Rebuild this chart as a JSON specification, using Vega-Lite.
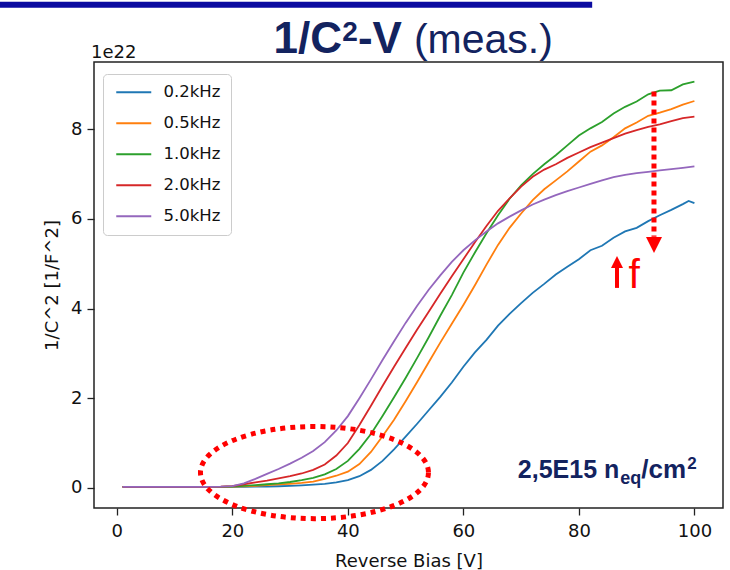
{
  "$schema": "https://vega.github.io/schema/vega-lite/v6.json",
  "width": 629,
  "height": 446,
  "autosize": {"type": "none"},
  "padding": {"left": 94, "top": 62, "right": 8, "bottom": 62},
  "background": "white",
  "config": {
    "view": {"stroke": "#222222", "strokeWidth": 1.5},
    "axis": {"grid": false, "domain": false}
  },
  "layer": [
    {
      "data": {"values": [
        {"f":"0.2kHz","v":1,"c":0.02},{"f":"0.2kHz","v":5,"c":0.02},{"f":"0.2kHz","v":10,"c":0.02},{"f":"0.2kHz","v":15,"c":0.02},{"f":"0.2kHz","v":18,"c":0.02},{"f":"0.2kHz","v":20,"c":0.02},{"f":"0.2kHz","v":22,"c":0.022},{"f":"0.2kHz","v":24,"c":0.025},{"f":"0.2kHz","v":26,"c":0.03},{"f":"0.2kHz","v":28,"c":0.035},{"f":"0.2kHz","v":30,"c":0.045},{"f":"0.2kHz","v":32,"c":0.055},{"f":"0.2kHz","v":34,"c":0.07},{"f":"0.2kHz","v":36,"c":0.09},{"f":"0.2kHz","v":38,"c":0.12},{"f":"0.2kHz","v":40,"c":0.17},{"f":"0.2kHz","v":42,"c":0.26},{"f":"0.2kHz","v":44,"c":0.4},{"f":"0.2kHz","v":46,"c":0.6},{"f":"0.2kHz","v":48,"c":0.86},{"f":"0.2kHz","v":50,"c":1.14},{"f":"0.2kHz","v":52,"c":1.43},{"f":"0.2kHz","v":54,"c":1.73},{"f":"0.2kHz","v":56,"c":2.03},{"f":"0.2kHz","v":58,"c":2.35},{"f":"0.2kHz","v":60,"c":2.7},{"f":"0.2kHz","v":62,"c":3.02},{"f":"0.2kHz","v":64,"c":3.3},{"f":"0.2kHz","v":66,"c":3.62},{"f":"0.2kHz","v":68,"c":3.88},{"f":"0.2kHz","v":70,"c":4.12},{"f":"0.2kHz","v":72,"c":4.35},{"f":"0.2kHz","v":74,"c":4.55},{"f":"0.2kHz","v":76,"c":4.76},{"f":"0.2kHz","v":78,"c":4.93},{"f":"0.2kHz","v":80,"c":5.1},{"f":"0.2kHz","v":82,"c":5.3},{"f":"0.2kHz","v":84,"c":5.4},{"f":"0.2kHz","v":86,"c":5.58},{"f":"0.2kHz","v":88,"c":5.72},{"f":"0.2kHz","v":90,"c":5.8},{"f":"0.2kHz","v":92,"c":5.95},{"f":"0.2kHz","v":94,"c":6.08},{"f":"0.2kHz","v":96,"c":6.2},{"f":"0.2kHz","v":98,"c":6.33},{"f":"0.2kHz","v":99,"c":6.4},{"f":"0.2kHz","v":100,"c":6.35},
        {"f":"0.5kHz","v":1,"c":0.02},{"f":"0.5kHz","v":5,"c":0.02},{"f":"0.5kHz","v":10,"c":0.02},{"f":"0.5kHz","v":15,"c":0.02},{"f":"0.5kHz","v":18,"c":0.02},{"f":"0.5kHz","v":20,"c":0.025},{"f":"0.5kHz","v":22,"c":0.035},{"f":"0.5kHz","v":24,"c":0.045},{"f":"0.5kHz","v":26,"c":0.06},{"f":"0.5kHz","v":28,"c":0.075},{"f":"0.5kHz","v":30,"c":0.09},{"f":"0.5kHz","v":32,"c":0.11},{"f":"0.5kHz","v":34,"c":0.14},{"f":"0.5kHz","v":36,"c":0.2},{"f":"0.5kHz","v":38,"c":0.27},{"f":"0.5kHz","v":40,"c":0.36},{"f":"0.5kHz","v":42,"c":0.53},{"f":"0.5kHz","v":44,"c":0.8},{"f":"0.5kHz","v":46,"c":1.15},{"f":"0.5kHz","v":48,"c":1.52},{"f":"0.5kHz","v":50,"c":1.93},{"f":"0.5kHz","v":52,"c":2.36},{"f":"0.5kHz","v":54,"c":2.8},{"f":"0.5kHz","v":56,"c":3.24},{"f":"0.5kHz","v":58,"c":3.66},{"f":"0.5kHz","v":60,"c":4.08},{"f":"0.5kHz","v":62,"c":4.52},{"f":"0.5kHz","v":64,"c":4.98},{"f":"0.5kHz","v":66,"c":5.42},{"f":"0.5kHz","v":68,"c":5.8},{"f":"0.5kHz","v":70,"c":6.12},{"f":"0.5kHz","v":72,"c":6.42},{"f":"0.5kHz","v":74,"c":6.66},{"f":"0.5kHz","v":76,"c":6.86},{"f":"0.5kHz","v":78,"c":7.06},{"f":"0.5kHz","v":80,"c":7.28},{"f":"0.5kHz","v":82,"c":7.5},{"f":"0.5kHz","v":84,"c":7.64},{"f":"0.5kHz","v":86,"c":7.82},{"f":"0.5kHz","v":88,"c":8.02},{"f":"0.5kHz","v":90,"c":8.15},{"f":"0.5kHz","v":92,"c":8.3},{"f":"0.5kHz","v":94,"c":8.37},{"f":"0.5kHz","v":96,"c":8.45},{"f":"0.5kHz","v":98,"c":8.55},{"f":"0.5kHz","v":100,"c":8.63},
        {"f":"1.0kHz","v":1,"c":0.02},{"f":"1.0kHz","v":5,"c":0.02},{"f":"1.0kHz","v":10,"c":0.02},{"f":"1.0kHz","v":15,"c":0.02},{"f":"1.0kHz","v":18,"c":0.022},{"f":"1.0kHz","v":20,"c":0.03},{"f":"1.0kHz","v":22,"c":0.045},{"f":"1.0kHz","v":24,"c":0.06},{"f":"1.0kHz","v":26,"c":0.08},{"f":"1.0kHz","v":28,"c":0.1},{"f":"1.0kHz","v":30,"c":0.13},{"f":"1.0kHz","v":32,"c":0.17},{"f":"1.0kHz","v":34,"c":0.22},{"f":"1.0kHz","v":36,"c":0.3},{"f":"1.0kHz","v":38,"c":0.42},{"f":"1.0kHz","v":40,"c":0.6},{"f":"1.0kHz","v":42,"c":0.87},{"f":"1.0kHz","v":44,"c":1.2},{"f":"1.0kHz","v":46,"c":1.6},{"f":"1.0kHz","v":48,"c":2.02},{"f":"1.0kHz","v":50,"c":2.45},{"f":"1.0kHz","v":52,"c":2.9},{"f":"1.0kHz","v":54,"c":3.36},{"f":"1.0kHz","v":56,"c":3.84},{"f":"1.0kHz","v":58,"c":4.3},{"f":"1.0kHz","v":60,"c":4.8},{"f":"1.0kHz","v":62,"c":5.25},{"f":"1.0kHz","v":64,"c":5.68},{"f":"1.0kHz","v":66,"c":6.08},{"f":"1.0kHz","v":68,"c":6.45},{"f":"1.0kHz","v":70,"c":6.75},{"f":"1.0kHz","v":72,"c":7.0},{"f":"1.0kHz","v":74,"c":7.22},{"f":"1.0kHz","v":76,"c":7.42},{"f":"1.0kHz","v":78,"c":7.64},{"f":"1.0kHz","v":80,"c":7.86},{"f":"1.0kHz","v":82,"c":8.02},{"f":"1.0kHz","v":84,"c":8.16},{"f":"1.0kHz","v":86,"c":8.35},{"f":"1.0kHz","v":88,"c":8.5},{"f":"1.0kHz","v":90,"c":8.62},{"f":"1.0kHz","v":92,"c":8.78},{"f":"1.0kHz","v":94,"c":8.86},{"f":"1.0kHz","v":96,"c":8.87},{"f":"1.0kHz","v":98,"c":9.0},{"f":"1.0kHz","v":100,"c":9.06},
        {"f":"2.0kHz","v":1,"c":0.02},{"f":"2.0kHz","v":5,"c":0.02},{"f":"2.0kHz","v":10,"c":0.02},{"f":"2.0kHz","v":15,"c":0.02},{"f":"2.0kHz","v":18,"c":0.025},{"f":"2.0kHz","v":20,"c":0.04},{"f":"2.0kHz","v":22,"c":0.08},{"f":"2.0kHz","v":24,"c":0.12},{"f":"2.0kHz","v":26,"c":0.16},{"f":"2.0kHz","v":28,"c":0.21},{"f":"2.0kHz","v":30,"c":0.26},{"f":"2.0kHz","v":32,"c":0.32},{"f":"2.0kHz","v":34,"c":0.4},{"f":"2.0kHz","v":36,"c":0.52},{"f":"2.0kHz","v":38,"c":0.72},{"f":"2.0kHz","v":40,"c":1.0},{"f":"2.0kHz","v":42,"c":1.4},{"f":"2.0kHz","v":44,"c":1.83},{"f":"2.0kHz","v":46,"c":2.27},{"f":"2.0kHz","v":48,"c":2.7},{"f":"2.0kHz","v":50,"c":3.12},{"f":"2.0kHz","v":52,"c":3.53},{"f":"2.0kHz","v":54,"c":3.93},{"f":"2.0kHz","v":56,"c":4.33},{"f":"2.0kHz","v":58,"c":4.72},{"f":"2.0kHz","v":60,"c":5.1},{"f":"2.0kHz","v":62,"c":5.48},{"f":"2.0kHz","v":64,"c":5.84},{"f":"2.0kHz","v":66,"c":6.18},{"f":"2.0kHz","v":68,"c":6.46},{"f":"2.0kHz","v":70,"c":6.72},{"f":"2.0kHz","v":72,"c":6.94},{"f":"2.0kHz","v":74,"c":7.1},{"f":"2.0kHz","v":76,"c":7.22},{"f":"2.0kHz","v":78,"c":7.36},{"f":"2.0kHz","v":80,"c":7.48},{"f":"2.0kHz","v":82,"c":7.6},{"f":"2.0kHz","v":84,"c":7.7},{"f":"2.0kHz","v":86,"c":7.8},{"f":"2.0kHz","v":88,"c":7.9},{"f":"2.0kHz","v":90,"c":7.98},{"f":"2.0kHz","v":92,"c":8.05},{"f":"2.0kHz","v":94,"c":8.11},{"f":"2.0kHz","v":96,"c":8.18},{"f":"2.0kHz","v":98,"c":8.25},{"f":"2.0kHz","v":100,"c":8.28},
        {"f":"5.0kHz","v":1,"c":0.02},{"f":"5.0kHz","v":5,"c":0.02},{"f":"5.0kHz","v":10,"c":0.02},{"f":"5.0kHz","v":15,"c":0.02},{"f":"5.0kHz","v":18,"c":0.025},{"f":"5.0kHz","v":20,"c":0.04},{"f":"5.0kHz","v":22,"c":0.1},{"f":"5.0kHz","v":24,"c":0.2},{"f":"5.0kHz","v":26,"c":0.31},{"f":"5.0kHz","v":28,"c":0.42},{"f":"5.0kHz","v":30,"c":0.54},{"f":"5.0kHz","v":32,"c":0.67},{"f":"5.0kHz","v":34,"c":0.82},{"f":"5.0kHz","v":36,"c":1.02},{"f":"5.0kHz","v":38,"c":1.28},{"f":"5.0kHz","v":40,"c":1.6},{"f":"5.0kHz","v":42,"c":2.0},{"f":"5.0kHz","v":44,"c":2.42},{"f":"5.0kHz","v":46,"c":2.85},{"f":"5.0kHz","v":48,"c":3.27},{"f":"5.0kHz","v":50,"c":3.68},{"f":"5.0kHz","v":52,"c":4.06},{"f":"5.0kHz","v":54,"c":4.42},{"f":"5.0kHz","v":56,"c":4.74},{"f":"5.0kHz","v":58,"c":5.04},{"f":"5.0kHz","v":60,"c":5.3},{"f":"5.0kHz","v":62,"c":5.52},{"f":"5.0kHz","v":64,"c":5.72},{"f":"5.0kHz","v":66,"c":5.9},{"f":"5.0kHz","v":68,"c":6.05},{"f":"5.0kHz","v":70,"c":6.19},{"f":"5.0kHz","v":72,"c":6.32},{"f":"5.0kHz","v":74,"c":6.43},{"f":"5.0kHz","v":76,"c":6.53},{"f":"5.0kHz","v":78,"c":6.62},{"f":"5.0kHz","v":80,"c":6.7},{"f":"5.0kHz","v":82,"c":6.78},{"f":"5.0kHz","v":84,"c":6.86},{"f":"5.0kHz","v":86,"c":6.93},{"f":"5.0kHz","v":88,"c":6.98},{"f":"5.0kHz","v":90,"c":7.02},{"f":"5.0kHz","v":92,"c":7.05},{"f":"5.0kHz","v":94,"c":7.08},{"f":"5.0kHz","v":96,"c":7.11},{"f":"5.0kHz","v":98,"c":7.14},{"f":"5.0kHz","v":100,"c":7.17}
      ]},
      "mark": {"type": "line", "strokeWidth": 1.8, "clip": true},
      "encoding": {
        "x": {
          "field": "v", "type": "quantitative",
          "scale": {"domain": [-3.95, 104.95], "nice": false, "zero": false},
          "axis": {
            "title": "Reverse Bias [V]", "values": [0, 20, 40, 60, 80, 100], "format": "d",
            "tickSize": 7, "tickColor": "#222222", "tickWidth": 1.3,
            "labelFont": "DejaVu Sans", "labelFontSize": 18, "labelColor": "#111111", "labelPadding": 7,
            "titleFont": "DejaVu Sans", "titleFontSize": 18, "titleFontWeight": "normal", "titleColor": "#111111",
            "titleY": 58, "titleBaseline": "alphabetic"
          }
        },
        "y": {
          "field": "c", "type": "quantitative",
          "scale": {"domain": [-0.45, 9.5], "nice": false, "zero": false},
          "axis": {
            "title": "1/C^2 [1/F^2]", "values": [0, 2, 4, 6, 8], "format": "d",
            "tickSize": 7, "tickColor": "#222222", "tickWidth": 1.3,
            "labelFont": "DejaVu Sans", "labelFontSize": 18, "labelColor": "#111111", "labelPadding": 5,
            "titleFont": "DejaVu Sans", "titleFontSize": 18, "titleFontWeight": "normal", "titleColor": "#111111",
            "titlePadding": 9
          }
        },
        "color": {
          "field": "f", "type": "nominal",
          "scale": {"domain": ["0.2kHz", "0.5kHz", "1.0kHz", "2.0kHz", "5.0kHz"], "range": ["#1f77b4", "#ff7f0e", "#2ca02c", "#d62728", "#9467bd"]},
          "legend": {
            "title": null, "orient": "none", "legendX": 9, "legendY": 12,
            "symbolType": "M-1,0H6", "symbolSize": 100, "symbolStrokeWidth": 2,
            "labelFont": "DejaVu Sans", "labelFontSize": 16.5, "labelColor": "#111111", "labelOffset": 34,
            "rowPadding": 14, "padding": 10, "strokeColor": "#cccccc", "fillColor": "white", "cornerRadius": 4
          }
        }
      }
    },
    {
      "data": {"values": [{}]},
      "mark": {"type": "rule", "color": "#0b0ba0", "strokeWidth": 6, "clip": false},
      "encoding": {"x": {"datum": -20.3, "type": "quantitative"}, "x2": {"datum": 82.3}, "y": {"datum": 10.78, "type": "quantitative"}}
    },
    {
      "data": {"values": [{}]},
      "mark": {"type": "text", "text": "-V", "font": "Liberation Sans", "fontWeight": "bold", "fontSize": 44, "color": "#13235f", "align": "right", "baseline": "alphabetic", "dx": -6},
      "encoding": {"x": {"datum": 50.4, "type": "quantitative"}, "y": {"datum": 9.7, "type": "quantitative"}}
    },
    {
      "data": {"values": [{}]},
      "mark": {"type": "text", "text": "2", "font": "Liberation Sans", "fontWeight": "bold", "fontSize": 28, "color": "#13235f", "align": "right", "baseline": "alphabetic", "dx": -50, "dy": -12},
      "encoding": {"x": {"datum": 50.4, "type": "quantitative"}, "y": {"datum": 9.7, "type": "quantitative"}}
    },
    {
      "data": {"values": [{}]},
      "mark": {"type": "text", "text": "1/C", "font": "Liberation Sans", "fontWeight": "bold", "fontSize": 44, "color": "#13235f", "align": "right", "baseline": "alphabetic", "dx": -66},
      "encoding": {"x": {"datum": 50.4, "type": "quantitative"}, "y": {"datum": 9.7, "type": "quantitative"}}
    },
    {
      "data": {"values": [{}]},
      "mark": {"type": "text", "text": "(meas.)", "font": "Liberation Sans", "fontWeight": "normal", "fontSize": 41, "color": "#13235f", "align": "left", "baseline": "alphabetic", "dx": 6},
      "encoding": {"x": {"datum": 50.4, "type": "quantitative"}, "y": {"datum": 9.7, "type": "quantitative"}}
    },
    {
      "data": {"values": [{}]},
      "mark": {"type": "text", "text": "1e22", "font": "DejaVu Sans", "fontSize": 18, "color": "#111111", "align": "left", "baseline": "alphabetic", "dx": -3, "dy": -4},
      "encoding": {"x": {"datum": -3.95, "type": "quantitative"}, "y": {"datum": 9.5, "type": "quantitative"}}
    },
    {
      "data": {"values": [{}]},
      "mark": {"type": "point", "shape": "M1,0 C1,0.2231 0.5523,0.404 0,0.404 C-0.5523,0.404 -1,0.2231 -1,0 C-1,-0.2231 -0.5523,-0.404 0,-0.404 C0.5523,-0.404 1,-0.2231 1,0 Z", "size": 51984, "filled": false, "stroke": "#ff0000", "strokeWidth": 5, "strokeDash": [5, 5], "opacity": 1, "clip": false},
      "encoding": {"x": {"datum": 34.22, "type": "quantitative"}, "y": {"datum": 0.34, "type": "quantitative"}}
    },
    {
      "data": {"values": [{}]},
      "mark": {"type": "rule", "color": "#ff0000", "strokeWidth": 5, "strokeDash": [5, 4], "clip": false},
      "encoding": {"x": {"datum": 93.0, "type": "quantitative"}, "y": {"datum": 8.84, "type": "quantitative"}, "y2": {"datum": 5.6}}
    },
    {
      "data": {"values": [{}]},
      "mark": {"type": "point", "shape": "M-1,-1 L1,-1 L0,1 Z", "size": 256, "filled": true, "fill": "#ff0000", "strokeWidth": 0, "opacity": 1, "clip": false},
      "encoding": {"x": {"datum": 93.0, "type": "quantitative"}, "y": {"datum": 5.42, "type": "quantitative"}}
    },
    {
      "data": {"values": [{}]},
      "mark": {"type": "rule", "color": "#ff0000", "strokeWidth": 4, "clip": false},
      "encoding": {"x": {"datum": 86.6, "type": "quantitative"}, "y": {"datum": 4.95, "type": "quantitative"}, "y2": {"datum": 4.46}}
    },
    {
      "data": {"values": [{}]},
      "mark": {"type": "point", "shape": "M-1,1 L1,1 L0,-1 Z", "size": 144, "filled": true, "fill": "#ff0000", "strokeWidth": 0, "opacity": 1, "clip": false},
      "encoding": {"x": {"datum": 86.6, "type": "quantitative"}, "y": {"datum": 5.04, "type": "quantitative"}}
    },
    {
      "data": {"values": [{}]},
      "mark": {"type": "text", "text": "f", "font": "Liberation Sans", "fontSize": 41, "color": "#ff0000", "align": "left", "baseline": "alphabetic"},
      "encoding": {"x": {"datum": 88.6, "type": "quantitative"}, "y": {"datum": 4.46, "type": "quantitative"}}
    },
    {
      "data": {"values": [{}]},
      "mark": {"type": "text", "text": "2,5E15 n", "font": "Liberation Sans", "fontWeight": "bold", "fontSize": 25, "color": "#13235f", "align": "right", "baseline": "alphabetic"},
      "encoding": {"x": {"datum": 87.0, "type": "quantitative"}, "y": {"datum": 0.22, "type": "quantitative"}}
    },
    {
      "data": {"values": [{}]},
      "mark": {"type": "text", "text": "eq", "font": "Liberation Sans", "fontWeight": "bold", "fontSize": 18, "color": "#13235f", "align": "left", "baseline": "alphabetic", "dx": 1, "dy": 6},
      "encoding": {"x": {"datum": 87.0, "type": "quantitative"}, "y": {"datum": 0.22, "type": "quantitative"}}
    },
    {
      "data": {"values": [{}]},
      "mark": {"type": "text", "text": "/cm", "font": "Liberation Sans", "fontWeight": "bold", "fontSize": 26, "color": "#13235f", "align": "left", "baseline": "alphabetic", "dx": 22},
      "encoding": {"x": {"datum": 87.0, "type": "quantitative"}, "y": {"datum": 0.22, "type": "quantitative"}}
    },
    {
      "data": {"values": [{}]},
      "mark": {"type": "text", "text": "2", "font": "Liberation Sans", "fontWeight": "bold", "fontSize": 17, "color": "#13235f", "align": "left", "baseline": "alphabetic", "dx": 68, "dy": -9},
      "encoding": {"x": {"datum": 87.0, "type": "quantitative"}, "y": {"datum": 0.22, "type": "quantitative"}}
    }
  ]
}
